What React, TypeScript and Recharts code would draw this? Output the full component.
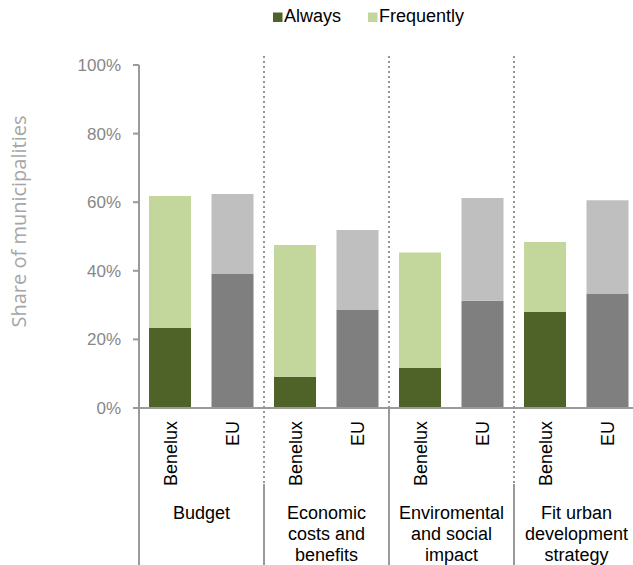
import React from "react";
import { BarChart, Bar, XAxis, YAxis, Cell } from "recharts";

const categories = [
  "Budget",
  "Economic costs and benefits",
  "Enviromental and social impact",
  "Fit urban development strategy",
];
const categoryLines = [
  ["Budget"],
  ["Economic", "costs and", "benefits"],
  ["Enviromental", "and social", "impact"],
  ["Fit urban", "development", "strategy"],
];
const regions = ["Benelux", "EU"];
const beneluxAlways = [23.3, 9.1, 11.7, 28.0];
const beneluxFrequently = [38.5, 38.4, 33.6, 20.4];
const euAlways = [39.1, 28.7, 31.3, 33.4];
const euFrequently = [23.3, 23.2, 29.9, 27.2];
const yTicks = [0, 20, 40, 60, 80, 100];

const colors: Record<string, { always: string; frequently: string }> = {
  Benelux: { always: "#4F6228", frequently: "#C3D69B" },
  EU: { always: "#7F7F7F", frequently: "#BFBFBF" },
};

const data = categories.flatMap((cat, i) => [
  { id: `${cat} ${regions[0]}`, cat: i, region: regions[0], always: beneluxAlways[i], frequently: beneluxFrequently[i] },
  { id: `${cat} ${regions[1]}`, cat: i, region: regions[1], always: euAlways[i], frequently: euFrequently[i] },
]);

const FONT = "'Liberation Sans', Arial, sans-serif";
const AXIS_COLOR = "#9A9A9A";
const DOT_TOP = 56; // where the dotted separators start
const AXIS_Y = 408;

const XTick = (props: any) => {
  const { x, y, payload } = props;
  const row = data.find((d) => d.id === payload.value);
  if (!row) return null;
  const half = payload.offset ?? 31.25;
  const lx = x - half;
  const isFirst = row.region === regions[0];
  return (
    <g>
      <text
        x={x + 6.5}
        y={y + 13}
        transform={`rotate(-90 ${x + 6.5} ${y + 13})`}
        textAnchor="end"
        fontSize={18}
        fontFamily={FONT}
        fill="#000"
      >
        {row.region}
      </text>
      {isFirst && (
        <g>
          {categoryLines[row.cat].map((line, k) => (
            <text
              key={k}
              x={x + half}
              y={y + 110.5 + k * 21}
              textAnchor="middle"
              fontSize={18}
              fontFamily={FONT}
              fill="#000"
            >
              {line}
            </text>
          ))}
          {row.cat > 0 && (
            <line
              x1={lx}
              x2={lx}
              y1={y - (AXIS_Y - DOT_TOP)}
              y2={row.cat % 2 === 1 ? y + 76 : y}
              stroke="#959595"
              strokeWidth={2}
              strokeDasharray="2 3"
            />
          )}
          <line
            x1={lx}
            x2={lx}
            y1={row.cat % 2 === 1 ? y + 76 : y}
            y2={y + 160}
            stroke={AXIS_COLOR}
            strokeWidth={2}
          />
        </g>
      )}
    </g>
  );
};

const YLabel = (props: any) => {
  const vb = props.viewBox || { y: 65, height: 343 };
  const cy = vb.y + vb.height / 2 - 15;
  return (
    <text
      x={26}
      y={cy}
      transform={`rotate(-90 26 ${cy})`}
      textAnchor="middle"
      fontSize={20}
      fontFamily="'Open Sans', sans-serif"
      fill="#A6A6A6"
    >
      Share of municipalities
    </text>
  );
};

export default function App() {
  return (
    <div
      style={{
        position: "absolute",
        left: 0,
        top: 0,
        width: 633,
        height: 565,
        overflow: "hidden",
        background: "#fff",
      }}
    >
      <svg width={633} height={30} style={{ position: "absolute", left: 0, top: 0 }}>
        <rect x={273} y={12.5} width={9.5} height={9.5} fill={colors.Benelux.always} />
        <text x={284} y={22} fontSize={18} fontFamily={FONT} fill="#000">
          Always
        </text>
        <rect x={368} y={12.5} width={9.5} height={9.5} fill={colors.Benelux.frequently} />
        <text x={379} y={22} fontSize={18} fontFamily={FONT} fill="#000">
          Frequently
        </text>
      </svg>
      <BarChart
        width={639}
        height={565}
        data={data}
        margin={{ top: 65, right: 0, left: 0, bottom: 0 }}
        style={{ position: "absolute", left: 0, top: 0 }}
      >
        <YAxis
          width={139}
          domain={[0, 100]}
          ticks={yTicks}
          interval={0}
          tickFormatter={(v: number) => `${v}%`}
          tick={{ fill: "#878787", fontSize: 17, fontFamily: FONT }}
          tickSize={6}
          tickMargin={12}
          axisLine={{ stroke: AXIS_COLOR, strokeWidth: 2 }}
          tickLine={{ stroke: AXIS_COLOR, strokeWidth: 2 }}
          label={(p: any) => <YLabel {...p} />}
        />
        <XAxis
          dataKey="id"
          height={157}
          interval={0}
          tickSize={0}
          tickMargin={0}
          tickLine={false}
          axisLine={{ stroke: AXIS_COLOR, strokeWidth: 2 }}
          tick={(p: any) => <XTick {...p} />}
        />
        <Bar dataKey="always" stackId="s" barSize={42} isAnimationActive={false}>
          {data.map((d) => (
            <Cell key={d.id} fill={colors[d.region].always} />
          ))}
        </Bar>
        <Bar dataKey="frequently" stackId="s" barSize={42} isAnimationActive={false}>
          {data.map((d) => (
            <Cell key={d.id} fill={colors[d.region].frequently} />
          ))}
        </Bar>
      </BarChart>
    </div>
  );
}
